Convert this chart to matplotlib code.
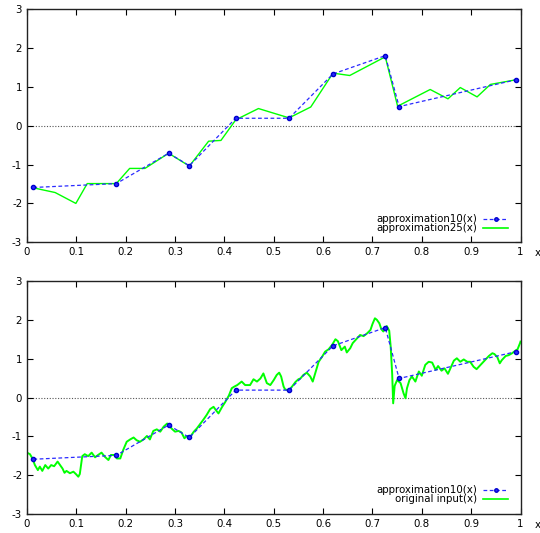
import matplotlib
matplotlib.use("Agg")
import matplotlib.pyplot as plt
from matplotlib.lines import Line2D

plt.rcParams['font.family'] = ['DejaVu Sans']
plt.rcParams['axes.unicode_minus'] = False

# Coarse approximation with 10 knots (shown in both panels)
x10 = [0.013, 0.181, 0.287, 0.329, 0.423, 0.531, 0.620, 0.726, 0.754, 0.991]
y10 = [-1.59, -1.49, -0.71, -1.03, 0.19, 0.19, 1.33, 1.80, 0.49, 1.18]

# Finer approximation with 25 knots
x25 = [0.013, 0.057, 0.099, 0.122, 0.181, 0.208, 0.239, 0.287, 0.329, 0.368,
       0.393, 0.423, 0.469, 0.531, 0.575, 0.620, 0.654, 0.726, 0.751, 0.817,
       0.853, 0.878, 0.912, 0.939, 0.991]
y25 = [-1.60, -1.72, -2.00, -1.49, -1.49, -1.10, -1.10, -0.71, -1.04, -0.40,
       -0.38, 0.15, 0.44, 0.20, 0.48, 1.35, 1.29, 1.77, 0.50, 0.93,
       0.69, 0.98, 0.74, 1.06, 1.18]

# Original input signal
x_in = [0.000, 0.006, 0.011, 0.016, 0.022, 0.026, 0.031, 0.037, 0.043, 0.049,
        0.055, 0.062, 0.067, 0.072, 0.076, 0.080, 0.087, 0.094, 0.099, 0.104,
        0.107, 0.109, 0.112, 0.117, 0.124, 0.131, 0.138, 0.144, 0.151, 0.158,
        0.165, 0.170, 0.177, 0.182, 0.189, 0.195, 0.202, 0.209, 0.216, 0.222,
        0.229, 0.236, 0.243, 0.249, 0.256, 0.263, 0.270, 0.277, 0.284, 0.288,
        0.293, 0.300, 0.307, 0.313, 0.319, 0.324, 0.331, 0.338, 0.344, 0.351,
        0.358, 0.364, 0.371, 0.378, 0.383, 0.388, 0.395, 0.402, 0.409, 0.415,
        0.420, 0.426, 0.435, 0.442, 0.452, 0.459, 0.466, 0.473, 0.479, 0.486,
        0.493, 0.500, 0.506, 0.511, 0.515, 0.520, 0.523, 0.530, 0.537, 0.544,
        0.550, 0.554, 0.560, 0.567, 0.574, 0.579, 0.584, 0.591, 0.598, 0.604,
        0.611, 0.618, 0.625, 0.630, 0.637, 0.644, 0.648, 0.655, 0.660, 0.667,
        0.675, 0.682, 0.689, 0.696, 0.700, 0.705, 0.709, 0.714, 0.718, 0.722,
        0.726, 0.729, 0.734, 0.737, 0.740, 0.742, 0.745, 0.750, 0.757, 0.763,
        0.767, 0.770, 0.775, 0.780, 0.787, 0.794, 0.800, 0.807, 0.814, 0.821,
        0.828, 0.833, 0.840, 0.846, 0.853, 0.858, 0.865, 0.871, 0.878, 0.885,
        0.892, 0.898, 0.905, 0.911, 0.919, 0.929, 0.936, 0.943, 0.947, 0.953,
        0.958, 0.962, 0.970, 0.976, 0.983, 0.990, 0.994, 0.999, 1.000]
y_in = [-1.42, -1.46, -1.57, -1.74, -1.87, -1.78, -1.89, -1.74, -1.83, -1.74,
        -1.77, -1.65, -1.74, -1.83, -1.94, -1.89, -1.95, -1.91, -1.97, -2.04,
        -1.97, -1.79, -1.51, -1.46, -1.51, -1.42, -1.54, -1.48, -1.42, -1.53,
        -1.61, -1.48, -1.48, -1.57, -1.57, -1.35, -1.14, -1.08, -1.03, -1.10,
        -1.14, -1.08, -0.99, -1.08, -0.86, -0.82, -0.88, -0.75, -0.67, -0.71,
        -0.80, -0.88, -0.86, -0.90, -1.05, -0.99, -1.01, -0.88, -0.80, -0.68,
        -0.56, -0.45, -0.30, -0.24, -0.33, -0.41, -0.25, -0.11, 0.05, 0.24,
        0.28, 0.32, 0.41, 0.32, 0.32, 0.47, 0.41, 0.49, 0.62, 0.37,
        0.32, 0.45, 0.58, 0.64, 0.54, 0.28, 0.21, 0.18, 0.28, 0.40,
        0.47, 0.49, 0.58, 0.64, 0.54, 0.41, 0.62, 0.92, 1.05, 1.18,
        1.24, 1.35, 1.50, 1.45, 1.22, 1.31, 1.16, 1.27, 1.40, 1.50,
        1.61, 1.58, 1.65, 1.74, 1.89, 2.04, 2.00, 1.91, 1.76, 1.70,
        1.78, 1.84, 1.72, 1.30, 0.60, -0.15, 0.30, 0.45, 0.37, 0.11,
        -0.02, 0.24, 0.45, 0.54, 0.41, 0.67, 0.56, 0.84, 0.92, 0.90,
        0.71, 0.81, 0.69, 0.75, 0.61, 0.75, 0.95, 1.01, 0.92, 0.98,
        0.92, 0.92, 0.79, 0.73, 0.84, 0.98, 1.07, 1.14, 1.12, 1.04,
        0.88, 0.96, 1.07, 1.09, 1.14, 1.21, 1.24, 1.40, 1.44]

xticks = [0, 0.1, 0.2, 0.3, 0.4, 0.5, 0.6, 0.7, 0.8, 0.9, 1]
xticklabels = ['0', '0.1', '0.2', '0.3', '0.4', '0.5', '0.6', '0.7', '0.8', '0.9', '1']
yticks = [-3, -2, -1, 0, 1, 2, 3]

BLUE = '#2a2aff'
GREEN = '#00ff00'
FS = 7.4

W, H = 540, 533
fig = plt.figure(figsize=(W / 100, H / 100), dpi=100)


def frac(l, t, r, b):
    return [l / W, 1 - b / H, (r - l) / W, (b - t) / H]


ax1 = fig.add_axes(frac(27, 9, 520.5, 242.3))
ax2 = fig.add_axes(frac(27, 281, 520.5, 514))


def style(ax):
    ax.set_xlim(0, 1)
    ax.set_ylim(-3, 3)
    ax.set_xticks(xticks)
    ax.set_xticklabels(xticklabels)
    ax.set_yticks(yticks)
    ax.tick_params(direction='in', length=4, width=0.8, top=True, right=True,
                   labelsize=FS, pad=3.5)
    for s in ax.spines.values():
        s.set_linewidth(1.0)
        s.set_color('#222222')
    ax.axhline(0, color='#555555', lw=0.8, ls=(0, (1, 1.5)), zorder=1)


def key(ax, entries, y0, dy):
    """Gnuplot-style key: right-aligned labels followed by line samples."""
    for i, (label, kw) in enumerate(entries):
        y = y0 - i * dy
        ax.text(0.912, y, label, transform=ax.transAxes, ha='right',
                va='center', fontsize=FS)
        ax.add_line(Line2D([0.925, 0.975], [y, y], transform=ax.transAxes,
                           **{k: v for k, v in kw.items()
                              if k not in ('marker', 'ms', 'mfc', 'mec')}))
        if 'marker' in kw:
            ax.add_line(Line2D([0.95], [y], transform=ax.transAxes, ls='none',
                               marker=kw['marker'], ms=kw.get('ms', 3),
                               mfc=kw.get('mfc'), mec=kw.get('mec')))


blue_kw = dict(color=BLUE, lw=0.9, ls=(0, (3, 2)), marker='o', ms=3,
               mfc=BLUE, mec='#0000cc')

# upper panel: two approximations
style(ax1)
ax1.plot(x10, y10, zorder=3, **blue_kw)
ax1.plot(x25, y25, color=GREEN, lw=1.0, zorder=2)
key(ax1, [('approximation10(x)', dict(blue_kw, ms=2.5)),
          ('approximation25(x)', dict(color=GREEN, lw=1.2))], 0.100, 0.039)

# lower panel: coarse approximation against the original input
style(ax2)
ax2.plot(x10, y10, zorder=3, **blue_kw)
ax2.plot(x_in, y_in, color=GREEN, lw=1.4, zorder=2)
key(ax2, [('approximation10(x)', dict(blue_kw, ms=2.5)),
          ('original input(x)', dict(color=GREEN, lw=1.2))], 0.103, 0.038)

fig.text(535 / W, 1 - 253 / H, 'x', fontsize=FS, ha='left', va='center')
fig.text(535 / W, 1 - 525 / H, 'x', fontsize=FS, ha='left', va='center')

fig.savefig('out.png', dpi=100)
